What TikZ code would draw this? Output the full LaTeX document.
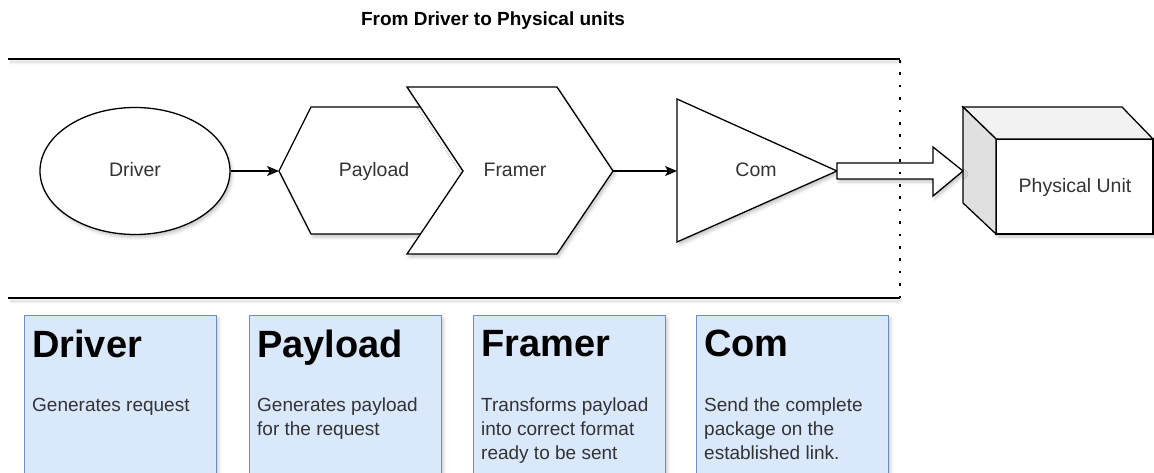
\documentclass[tikz,border=0pt]{standalone}
\usepackage{fontspec}
\setmainfont{Liberation Sans}
\usetikzlibrary{shapes.geometric, arrows.meta, positioning, shadows.blur}

\definecolor{infofill}{HTML}{DAE8FC}
\definecolor{infoline}{HTML}{6C8EBF}
\definecolor{bodygray}{HTML}{333333}
\definecolor{cubetop}{HTML}{F2F2F2}
\definecolor{cubeside}{HTML}{E0E0E0}

\begin{document}
\begin{tikzpicture}[
  x=1pt, y=-1pt,
  soft/.style={blur shadow={shadow xshift=2pt, shadow yshift=-3pt,
      shadow blur radius=3pt, shadow opacity=22}},
  outline/.style={draw=black, line width=1.3pt, fill=white, line join=miter, soft},
  lbl/.style={font=\fontsize{19.5}{23}\selectfont, text=bodygray, inner sep=0pt,
    anchor=base},
  arr/.style={-{Stealth[length=12pt, width=10pt, inset=3pt]}, line width=1.3pt},
  infobox/.style={
    rectangle, draw=infoline, fill=infofill, line width=1pt,
    minimum width=192pt, minimum height=180pt, anchor=north west, soft
  },
  head/.style={font=\fontsize{38}{44}\bfseries, inner sep=0pt},
  body/.style={font=\fontsize{19}{24}\selectfont, text=bodygray,
    align=left, inner sep=0pt}
]
  \clip (0,0) rectangle (1154,473);

  % Title
  \node[font=\fontsize{19}{23}\bfseries, anchor=base, inner sep=0pt] (title)
    at (493,26) {From Driver to Physical units};

  % Frame lines
  \draw[line width=1.3pt, soft] (8,59) -- (900,59);
  \draw[line width=1.3pt, soft] (8,298) -- (900,298);

  % Pipeline shapes
  \node[ellipse, outline, minimum width=190pt, minimum height=127pt,
    inner sep=0pt] (driver) at (135,171) {};
  \node[lbl] at (135,177) {Driver};

  \draw[outline] (279,171) -- (311,107) -- (433,107) -- (465,171)
    -- (433,234) -- (311,234) -- cycle;
  \coordinate (payload-in) at (279,171);
  \node[lbl] (payload) at (374,177) {Payload};

  \draw[outline] (407,87) -- (557,87) -- (613,171) -- (557,254)
    -- (407,254) -- (463,171) -- cycle;
  \coordinate (framer-out) at (613,171);
  \node[lbl] (framer) at (515,177) {Framer};

  \draw[outline] (677,99) -- (837,171) -- (677,242) -- cycle;
  \coordinate (com-in) at (677,171);
  \coordinate (com-out) at (837,171);
  \node[lbl] (com) at (756,177) {Com};

  % Physical unit (cube)
  \draw[outline] (996,139) rectangle (1153,234);
  \draw[draw=black, line width=1.3pt, fill=cubetop, line join=miter]
    (963,107) -- (1122,107) -- (1153,139) -- (996,139) -- cycle;
  \draw[draw=black, line width=1.3pt, fill=cubeside, line join=miter]
    (963,107) -- (996,139) -- (996,234) -- (963,203) -- cycle;
  \coordinate (unit-in) at (963,171);
  \node[lbl] (unit) at (1075,193) {Physical Unit};

  % Arrows
  \draw[arr] (driver.east) -- (payload-in);
  \draw[arr] (framer-out) -- (com-in);
  \draw[outline] (com-out) ++(0,-8) -- ++(96,0) -- ++(0,-16) -- (unit-in)
    -- ++(-30,25) -- ++(0,-17) -- ++(-96,0) -- cycle;

  % Dotted boundary
  \draw[line width=2.6pt, dash pattern=on 2.6pt off 9.8pt] (900,60) -- (900,298);

  % Description boxes
  \node[infobox] (drvbox) at (24,315) {};
  \node[infobox, right=32pt of drvbox] (paybox) {};
  \node[infobox, right=31pt of paybox] (frmbox) {};
  \node[infobox, right=30pt of frmbox] (combox) {};

  \node[head, below right=15pt and 8pt of drvbox.north west] {Driver};
  \node[head, below right=15pt and 8pt of paybox.north west] {Payload};
  \node[head, below right=15pt and 8pt of frmbox.north west] {Framer};
  \node[head, below right=15pt and 8pt of combox.north west] {Com};

  \node[body, below right=83pt and 8pt of drvbox.north west]
    {Generates request};
  \node[body, below right=83pt and 8pt of paybox.north west]
    {Generates payload\\for the request};
  \node[body, below right=83pt and 8pt of frmbox.north west]
    {Transforms payload\\into correct format\\ready to be sent};
  \node[body, below right=83pt and 8pt of combox.north west]
    {Send the complete\\package on the\\established link.};
\end{tikzpicture}
\end{document}
